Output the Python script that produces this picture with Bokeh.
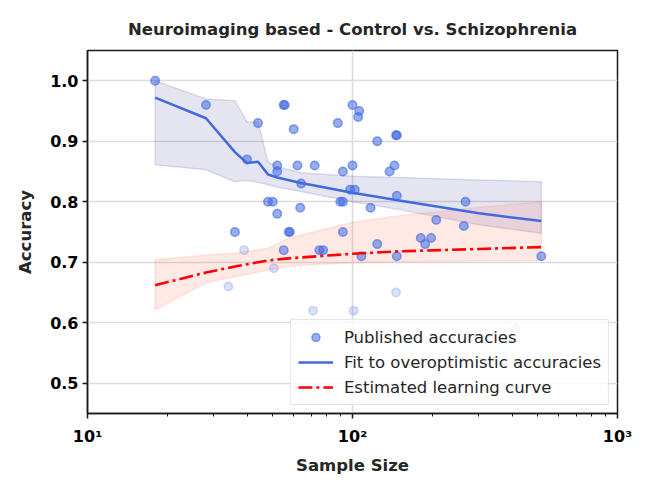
from bokeh.plotting import figure
from bokeh.models import FixedTicker, PrintfTickFormatter, Legend, LegendItem
from bokeh.embed import file_html
from bokeh.resources import INLINE

# ---- data ----
dark_n = [18, 28, 44, 40, 36, 48, 50, 52, 52, 52, 55, 55.5, 60, 62, 63.5, 64,
          58, 57.5, 55, 72, 75, 77.5, 88, 90, 92, 92, 92, 100, 100, 98, 102,
          106, 105, 117, 124, 124, 108, 146, 147, 144, 138, 147, 267, 207, 263,
          181, 188, 198, 147, 516]
dark_acc = [1.00, 0.96, 0.93, 0.87, 0.75, 0.80, 0.80, 0.78, 0.86, 0.85, 0.96, 0.96,
            0.92, 0.86, 0.79, 0.83, 0.75, 0.75, 0.72, 0.86, 0.72, 0.72, 0.93, 0.80,
            0.80, 0.85, 0.75, 0.96, 0.86, 0.82, 0.82, 0.95, 0.94, 0.79, 0.90, 0.73,
            0.71, 0.91, 0.91, 0.86, 0.85, 0.81, 0.80, 0.77, 0.76, 0.74, 0.73, 0.74,
            0.71, 0.71]
light_n = [34, 39, 50.5, 71, 101, 146, 412]
light_acc = [0.66, 0.72, 0.69, 0.62, 0.62, 0.65, 0.59]

fit_n = [18, 28, 36, 40, 44, 48, 52, 64, 100, 150, 300, 516]
fit_acc = [0.972, 0.938, 0.882, 0.864, 0.866, 0.845, 0.840, 0.831, 0.815, 0.802, 0.781, 0.768]
fit_lo = [0.861, 0.853, 0.833, 0.835, 0.832, 0.828, 0.824, 0.817, 0.800, 0.787, 0.762, 0.748]
fit_hi = [1.000, 0.970, 0.967, 0.932, 0.932, 0.866, 0.858, 0.848, 0.842, 0.840, 0.836, 0.833]

curve_n = [18, 28, 36, 48, 56, 64, 100, 150, 300, 516]
curve_acc = [0.662, 0.683, 0.693, 0.703, 0.706, 0.708, 0.714, 0.718, 0.722, 0.725]
curve_lo = [0.621, 0.666, 0.676, 0.687, 0.692, 0.695, 0.699, 0.701, 0.702, 0.703]
curve_hi = [0.704, 0.712, 0.715, 0.723, 0.738, 0.745, 0.766, 0.777, 0.791, 0.800]

y_ticks = [0.5, 0.6, 0.7, 0.8, 0.9, 1.0]
x_ticks = [10, 100, 1000]
x_tick_labels = {10: "10\u00b9", 100: "10\u00b2", 1000: "10\u00b3"}

TXT = "#262626"
FONT = "DejaVu Sans"
FS = "16.5px"

p = figure(width=653, height=494, x_axis_type="log", x_range=(10, 1000),
           y_range=(0.45, 1.05), output_backend="svg", toolbar_location=None,
           min_border_left=87, min_border_right=36, min_border_top=50,
           min_border_bottom=81,
           title="Neuroimaging based - Control vs. Schizophrenia")

p.title.align = "center"
p.title.text_font = FONT
p.title.text_font_size = FS
p.title.text_font_style = "bold"
p.title.text_color = TXT
p.title.standoff = 24

p.outline_line_color = "#1a1a1a"
p.outline_line_width = 1.5
p.outline_line_alpha = 1.0

# bands
p.patch(fit_n + fit_n[::-1], fit_hi + fit_lo[::-1], fill_color="navy",
        fill_alpha=0.1, line_color="navy", line_alpha=0.12, line_width=1.5)
p.patch(curve_n + curve_n[::-1], curve_hi + curve_lo[::-1], fill_color="#ff6347",
        fill_alpha=0.14, line_color="#ff6347", line_alpha=0.14, line_width=1.5)

# scatter
r_dark = p.scatter(dark_n, dark_acc, size=8.5, fill_color="royalblue", fill_alpha=0.55,
                   line_color="royalblue", line_alpha=0.6, line_width=1.5)
r_light = p.scatter(light_n, light_acc, size=8.5, fill_color="royalblue", fill_alpha=0.2,
                    line_color="royalblue", line_alpha=0.22, line_width=1.5)

# lines
r_fit = p.line(fit_n, fit_acc, line_color="royalblue", line_width=2.5)
r_curve = p.line(curve_n, curve_acc, line_color="red", line_width=2.6,
                 line_dash="14 4 3 4")

# axes
p.xaxis.ticker = FixedTicker(ticks=x_ticks,
                             minor_ticks=[m * d for d in (10, 100) for m in range(2, 10)])
p.xaxis.major_label_overrides = x_tick_labels
p.yaxis.ticker = FixedTicker(ticks=y_ticks)
p.yaxis.formatter = PrintfTickFormatter(format="%.1f")

for ax in (p.xaxis, p.yaxis):
    ax.axis_line_color = "#1a1a1a"
    ax.axis_line_width = 1.5
    ax.major_tick_line_color = "#1a1a1a"
    ax.major_tick_line_width = 1.5
    ax.major_tick_out = 5
    ax.major_tick_in = 0
    ax.minor_tick_line_color = "#1a1a1a"
    ax.minor_tick_out = 3
    ax.minor_tick_in = 0
    ax.major_label_text_font = FONT
    ax.major_label_text_font_size = "16px"
    ax.major_label_text_font_style = "bold"
    ax.major_label_text_color = "black"
    ax.axis_label_text_font = FONT
    ax.axis_label_text_font_size = FS
    ax.axis_label_text_font_style = "bold"
    ax.axis_label_text_color = TXT
p.yaxis.minor_tick_line_color = None
p.xaxis.axis_label = "Sample Size"
p.yaxis.axis_label = "Accuracy"
p.xaxis.major_label_standoff = 8
p.yaxis.major_label_standoff = 4
p.xaxis.axis_label_standoff = 7
p.yaxis.axis_label_standoff = 12

p.grid.grid_line_color = "#dcdcdc"
p.grid.grid_line_width = 1.6

legend = Legend(items=[
    LegendItem(label="Published accuracies", renderers=[r_dark]),
    LegendItem(label="Fit to overoptimistic accuracies", renderers=[r_fit]),
    LegendItem(label="Estimated learning curve", renderers=[r_curve]),
], location="bottom_right")
legend.label_text_font = FONT
legend.label_text_font_size = FS
legend.label_text_color = TXT
legend.glyph_width = 35
legend.glyph_height = 20
legend.label_standoff = 11
legend.spacing = 5
legend.padding = 7
legend.margin = 8
legend.border_line_color = "#cccccc"
legend.border_line_width = 1.5
legend.background_fill_alpha = 0.8
p.add_layout(legend)

open("out.html", "w").write(file_html(p, INLINE))
